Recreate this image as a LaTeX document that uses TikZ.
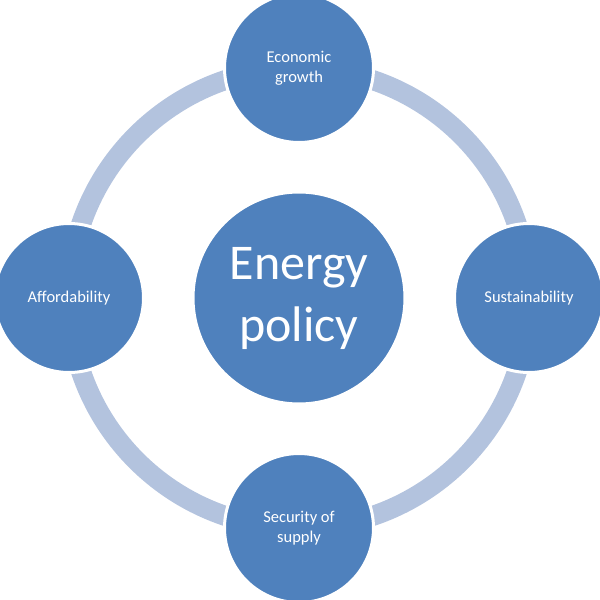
\documentclass[tikz,border=0pt]{standalone}
\usepackage{fontspec}
\setmainfont{Carlito}
\usepackage{tikz}
\usetikzlibrary{backgrounds}
\definecolor{pblue}{HTML}{4F81BD}
\definecolor{pring}{HTML}{B3C3DE}
\tikzset{
  phub/.style={circle, fill=pblue, draw=white, line width=3pt, text=white,
               minimum size=212pt, inner sep=0pt, align=center,
               font=\fontsize{50}{64}\selectfont},
  pspoke/.style={circle, fill=pblue, draw=white, line width=3pt, text=white,
                 minimum size=149pt, inner sep=0pt, align=center,
                 font=\fontsize{16.5}{19.5}\selectfont},
  pring/.style={draw=pring, line width=20pt},
}
\begin{document}
\begin{tikzpicture}[x=1pt,y=-1pt]
  \useasboundingbox (0,0) rectangle (600,600);

  \node[phub]   (policy) at (299,298) {\raisebox{-2pt}{Energy}\\policy};
  \node[pspoke] (growth) at (299,68)  {Economic\\growth};
  \node[pspoke] (sust)   at (529,298) {Sustainability};
  \node[pspoke] (supply) at (299,528) {Security of\\supply};
  \node[pspoke] (afford) at (69,298)  {Affordability};

  \begin{scope}[on background layer]
    \draw[pring] (policy.center) circle[radius=230pt];
  \end{scope}

\end{tikzpicture}
\end{document}
